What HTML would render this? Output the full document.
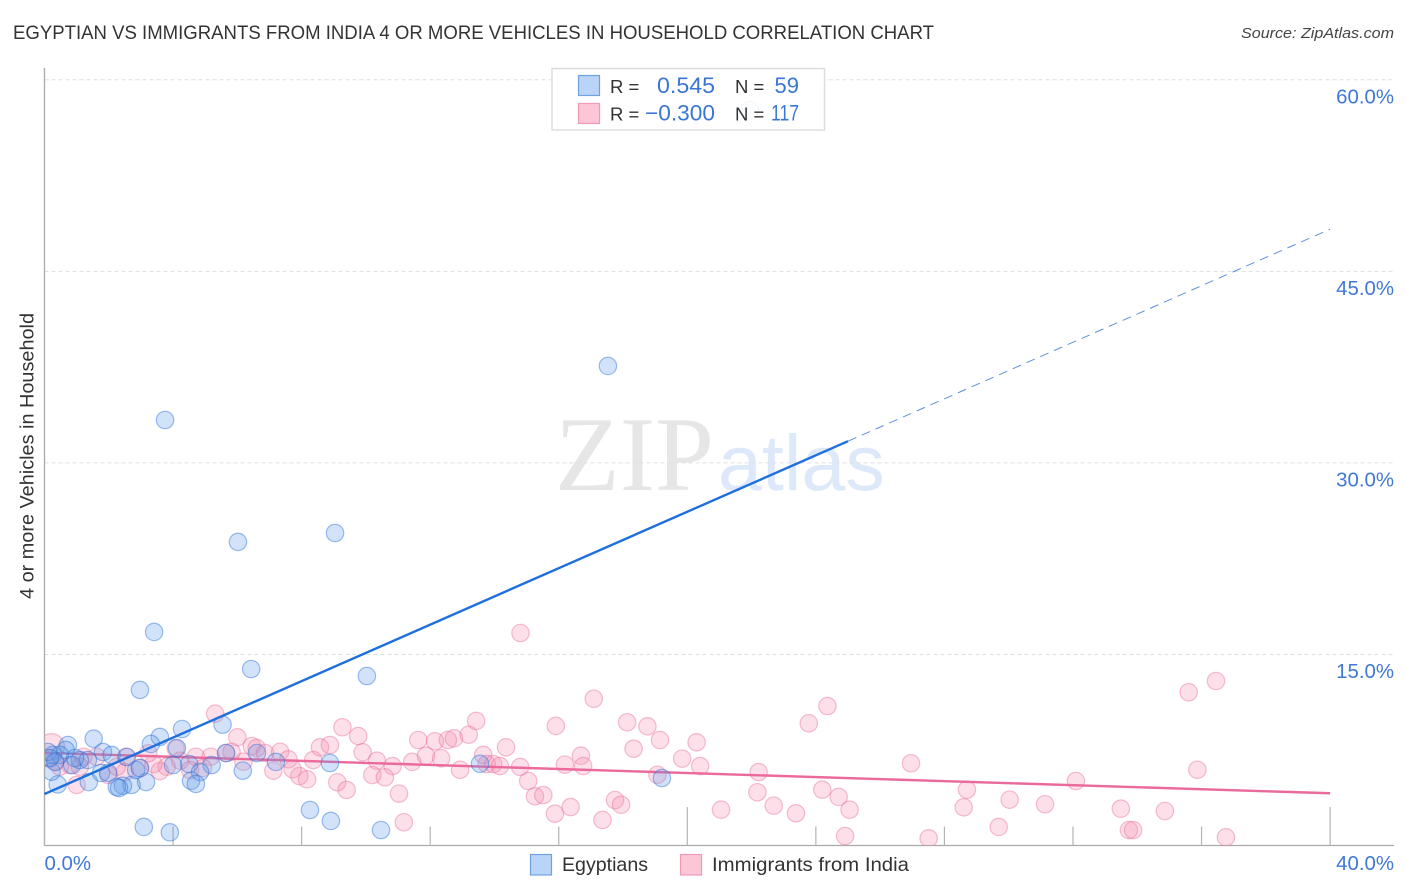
<!DOCTYPE html>
<html>
<head>
<meta charset="utf-8">
<title>Egyptian vs Immigrants from India chart</title>
<style>
html,body{margin:0;padding:0;background:#fff;width:1406px;height:892px;overflow:hidden}
svg{display:block;font-family:"Liberation Sans",sans-serif}
</style>
</head>
<body>
<svg id="chart" xmlns="http://www.w3.org/2000/svg" width="1406" height="892" viewBox="0 0 1406 892">
  <defs>
    <clipPath id="plot-clip"><rect x="45" y="60" width="1349" height="785.5"></rect></clipPath>
  </defs>
  <text x="13" y="39" font-size="19" fill="#333" textLength="921" lengthAdjust="spacingAndGlyphs">EGYPTIAN VS IMMIGRANTS FROM INDIA 4 OR MORE VEHICLES IN HOUSEHOLD CORRELATION CHART</text>
  <text x="1394" y="38" font-size="15" font-style="italic" fill="#444" text-anchor="end" textLength="153" lengthAdjust="spacingAndGlyphs">Source: ZipAtlas.com</text>

  <g id="watermark">
    <text x="555" y="490" font-family="Liberation Serif, serif" font-size="106" fill="#e6e6e6">ZIP</text>
    <text x="718" y="490" font-size="79" fill="#dde9fa">atlas</text>
  </g>

  <g id="grid"></g>
  <g id="axes"></g>
  <g id="points-india" clip-path="url(#plot-clip)"></g>
  <g id="trend-india"></g>
  <g id="points-egyptians" clip-path="url(#plot-clip)"></g>
  <g id="trend-egyptians"></g>
  <g id="tick-labels"></g>

  <text transform="translate(33.5,456) rotate(-90)" font-size="19" fill="#333" text-anchor="middle" textLength="286" lengthAdjust="spacingAndGlyphs">4 or more Vehicles in Household</text>

  <g>
    <rect x="552" y="68.5" width="272.5" height="61.5" fill="#fff" fill-opacity="0.9" stroke="#ddd" stroke-width="1.5"></rect>
    <rect x="578.5" y="75.5" width="21" height="20" fill="#b9d4f7" stroke="#70a2e2" stroke-width="1.2"></rect>
    <rect x="578.5" y="103.5" width="21" height="20" fill="#fcc6d7" stroke="#f09bb6" stroke-width="1.2"></rect>
    <text x="610" y="93" font-size="18.5" fill="#333">R =</text>
    <text x="715" y="93" font-size="22" fill="#3a76d2" text-anchor="end" textLength="58" lengthAdjust="spacingAndGlyphs">0.545</text>
    <text x="735" y="93" font-size="18.5" fill="#333">N =</text>
    <text x="799" y="93" font-size="22" fill="#3a76d2" text-anchor="end">59</text>
    <text x="610" y="120.5" font-size="18.5" fill="#333">R =</text>
    <text x="715" y="120.5" font-size="22" fill="#3a76d2" text-anchor="end" textLength="70" lengthAdjust="spacingAndGlyphs">&#8722;0.300</text>
    <text x="735" y="120.5" font-size="18.5" fill="#333">N =</text>
    <text x="799" y="120.5" font-size="22" fill="#3a76d2" text-anchor="end" textLength="28" lengthAdjust="spacingAndGlyphs">117</text>
  </g>

  <g>
    <rect x="530.5" y="854.5" width="21" height="20.5" fill="#b9d4f7" stroke="#70a2e2" stroke-width="1.2"></rect>
    <text x="562" y="871" font-size="19.5" fill="#333" textLength="86" lengthAdjust="spacingAndGlyphs">Egyptians</text>
    <rect x="680.5" y="854.5" width="21" height="20.5" fill="#fcc6d7" stroke="#f09bb6" stroke-width="1.2"></rect>
    <text x="712" y="871" font-size="19.5" fill="#333" textLength="197" lengthAdjust="spacingAndGlyphs">Immigrants from India</text>
  </g>
</svg>

<script>
const yTickValues = [15, 30, 45, 60];
const yTickLabels = ["15.0%", "30.0%", "45.0%", "60.0%"];
const xTickValues = [0, 4, 8, 12, 16, 20, 24, 28, 32, 36, 40];
const xMajorTickValues = [0, 20, 40];
const xEndValues = [0, 40];
const xEndLabels = ["0.0%", "40.0%"];

const egyptiansX = [21.95,17.53,3.75,9.04,6.02,3.41,6.43,10.03,2.97,5.54,4.28,3.59,3.31,1.53,0.73,1.82,4.12,0.66,0.26,0.48,1.10,2.09,2.56,5.65,6.61,7.20,8.88,6.17,5.20,4.50,4.00,4.84,4.56,4.71,3.16,2.71,2.44,2.25,2.32,1.38,1.76,1.98,2.85,0.41,0.22,8.26,8.91,3.09,3.90,10.47,13.55,19.21,0.11,0.33,0.86,1.35,0.17,0.95,2.97];
const egyptiansY = [57.64,37.59,33.36,24.51,23.81,16.76,13.86,13.31,12.22,9.50,9.16,8.54,7.99,8.40,7.91,7.36,7.67,7.52,7.13,7.13,6.73,7.13,6.97,7.28,7.28,6.58,6.50,5.90,6.34,6.42,6.34,5.79,5.11,4.86,5.01,4.78,4.72,4.62,4.54,5.01,5.72,5.72,5.95,4.82,5.82,2.82,1.96,1.49,1.07,1.25,6.44,5.32,7.36,6.58,6.34,6.73,6.89,6.89,6.11];

const indiaX = [0.22,5.31,6.00,6.45,6.60,6.86,7.33,7.59,7.12,7.72,7.93,8.17,8.36,8.57,8.88,9.27,9.11,9.40,6.19,5.82,5.65,5.17,4.71,4.93,4.22,4.08,3.80,3.59,3.39,3.23,2.97,2.54,2.50,1.99,1.62,1.21,0.79,1.00,0.48,0.33,2.25,1.10,0.12,4.53,9.76,9.90,10.34,10.83,10.20,10.59,11.03,11.18,11.44,11.63,12.15,12.55,12.74,13.20,13.43,11.87,12.34,12.93,13.65,13.76,13.96,14.17,14.36,14.80,15.05,15.26,15.52,15.88,16.37,15.91,17.09,14.81,16.19,16.69,16.76,17.75,17.94,17.36,18.13,18.76,19.15,18.33,19.84,19.07,20.29,20.40,24.36,23.78,26.96,22.22,22.18,22.69,23.38,21.05,24.20,24.71,25.05,24.91,27.51,28.70,28.60,30.03,29.69,31.13,36.45,35.60,35.87,32.09,33.49,34.86,33.74,33.87,36.76];
const indiaY = [7.78,10.36,8.51,7.83,7.67,7.28,7.38,6.79,5.90,6.01,5.48,5.22,6.73,7.73,7.91,9.30,4.99,4.39,6.60,7.38,7.28,6.99,6.99,6.11,6.68,7.65,6.21,5.87,6.42,7.26,6.08,6.99,5.79,5.56,6.99,6.99,6.34,4.78,6.21,6.60,6.21,6.21,6.87,5.95,8.61,7.34,6.68,6.26,5.56,5.38,4.10,1.86,6.58,8.30,8.20,8.30,8.43,8.72,9.79,7.07,6.87,5.97,7.13,6.42,6.42,6.26,7.73,6.19,5.09,3.89,3.99,2.53,3.05,9.40,11.53,16.68,6.37,7.07,6.26,3.60,3.23,2.04,9.69,9.37,8.30,7.62,6.84,5.58,8.12,6.26,10.96,9.61,6.48,5.79,4.21,3.16,2.56,2.84,4.41,3.84,2.84,0.78,0.60,4.41,3.03,3.63,1.49,3.27,12.92,12.04,5.97,5.09,2.92,2.74,1.25,1.25,0.68];

const egyptiansTrendX = [0, 25];
const egyptiansTrendY = [4.07, 31.7];
const egyptiansExtendX = [25, 40];
const egyptiansExtendY = [31.7, 48.3];
const indiaTrendX = [0, 40];
const indiaTrendY = [7.3, 4.13];

const svgNS = "http://www.w3.org/2000/svg";
function xScale(v) { return 44.5 + v * 32.14; }
function yScale(v) { return 846 - v * 12.77; }
function make(tag, attrs, parent) {
  const el = document.createElementNS(svgNS, tag);
  Object.keys(attrs).forEach(function (k) { el.setAttribute(k, attrs[k]); });
  parent.appendChild(el);
  return el;
}

const gridGroup = document.getElementById("grid");
yTickValues.forEach(function (v) {
  const el = make("line", { x1: 44.5, x2: 1394, y1: yScale(v), y2: yScale(v), stroke: "#dfdfdf", "stroke-width": 1, "stroke-dasharray": "4 3" }, gridGroup);
  
  
});

const axesGroup = document.getElementById("axes");
const yAxisLine = make("line", { x1: 44.5, x2: 44.5, y1: 68, y2: 846, stroke: "#aaa", "stroke-width": 1.3 }, axesGroup);


const xAxisLine = make("line", { x1: 44, x2: 1394, y1: 845.5, y2: 845.5, stroke: "#aaa", "stroke-width": 1.3 }, axesGroup);


xTickValues.forEach(function (v) {
  const top = xMajorTickValues.indexOf(v) >= 0 ? 807 : 826.5;
  const el = make("line", { x1: xScale(v), x2: xScale(v), y1: top, y2: 845.5, stroke: "#b4b4b4", "stroke-width": 1.2 }, axesGroup);
  
  
});

const indiaPointsGroup = document.getElementById("points-india");
indiaX.forEach(function (v, i) {
  const el = make("circle", { cx: xScale(v), cy: yScale(indiaY[i]), r: i === 0 ? 13 : 8.7, fill: "rgba(245,140,175,0.28)", stroke: "rgba(232,105,150,0.42)", "stroke-width": 1.2 }, indiaPointsGroup);
  
  
});

const indiaTrendGroup = document.getElementById("trend-india");
const indiaTrend = make("line", { x1: xScale(indiaTrendX[0]), y1: yScale(indiaTrendY[0]), x2: xScale(indiaTrendX[1]), y2: yScale(indiaTrendY[1]), stroke: "#ea6a9b", "stroke-width": 2.4 }, indiaTrendGroup);



const egyptiansPointsGroup = document.getElementById("points-egyptians");
egyptiansX.forEach(function (v, i) {
  const el = make("circle", { cx: xScale(v), cy: yScale(egyptiansY[i]), r: 8.7, fill: "rgba(95,155,235,0.28)", stroke: "rgba(40,110,215,0.45)", "stroke-width": 1.2 }, egyptiansPointsGroup);
  
  
});

const egyptiansTrendGroup = document.getElementById("trend-egyptians");
const egyptiansTrend = make("line", { x1: xScale(egyptiansTrendX[0]), y1: yScale(egyptiansTrendY[0]), x2: xScale(egyptiansTrendX[1]), y2: yScale(egyptiansTrendY[1]), stroke: "#1f6fdc", "stroke-width": 2.4 }, egyptiansTrendGroup);


const egyptiansExtend = make("line", { x1: xScale(egyptiansExtendX[0]), y1: yScale(egyptiansExtendY[0]), x2: xScale(egyptiansExtendX[1]), y2: yScale(egyptiansExtendY[1]), stroke: "#5f8fdc", "stroke-width": 1, "stroke-dasharray": "9 6" }, egyptiansTrendGroup);



const labelsGroup = document.getElementById("tick-labels");
yTickValues.forEach(function (v, i) {
  const el = make("text", { x: 1394, y: yScale(v) + 23.5, "font-size": 20.4, fill: "#4079d5", "text-anchor": "end" }, labelsGroup);
  el.textContent = yTickLabels[i];
  
  
});
xEndValues.forEach(function (v, i) {
  const el = make("text", { x: i === 0 ? xScale(v) : 1394, y: 870, "font-size": 20.4, fill: "#4079d5", "text-anchor": i === 0 ? "start" : "end" }, labelsGroup);
  el.textContent = xEndLabels[i];
  
  
});
</script>
</body>
</html>
